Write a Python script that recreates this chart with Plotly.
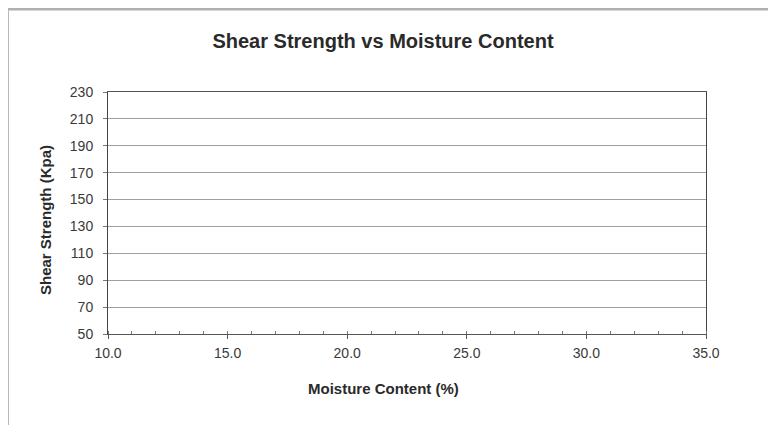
import plotly.graph_objects as go

# Chart contains no plotted data (empty series)
moisture_content = []
shear_strength = []
x_ticks = [10.0, 15.0, 20.0, 25.0, 30.0, 35.0]
x_tick_labels = ["10.0", "15.0", "20.0", "25.0", "30.0", "35.0"]
y_ticks = [50, 70, 90, 110, 130, 150, 170, 190, 210, 230]

fig = go.Figure()
fig.add_trace(go.Scatter(x=moisture_content, y=shear_strength, mode="markers",
                         marker=dict(color="#000080"), showlegend=False))

FONT = "Liberation Sans, Arial, sans-serif"
L, T, W, H = 100, 84, 598, 242
fig.update_layout(
    width=776, height=425,
    margin=dict(l=L, r=776 - L - W, t=T, b=425 - T - H),
    paper_bgcolor="white", plot_bgcolor="white",
    font=dict(family=FONT, color="#333333", size=14),
    title=dict(text="<b>Shear Strength vs Moisture Content</b>", x=375/776, xanchor="center",
               y=1 - 33/425, yanchor="middle", font=dict(size=20, color="#2a2a2a", family=FONT)),
    xaxis=dict(range=[10, 35], tickvals=x_ticks, ticktext=x_tick_labels,
               showgrid=False, zeroline=False, showline=True, linecolor="#555555", linewidth=1,
               mirror=True, ticks="outside", ticklen=4, tickcolor="#555555",
               ticklabelstandoff=2,
               minor=dict(dtick=1, ticks="inside", ticklen=3, tickcolor="#777777", showgrid=False),
               tickfont=dict(size=14, color="#3a3a3a")),
    yaxis=dict(range=[50, 230], tickvals=y_ticks,
               showgrid=True, gridcolor="#a0a0a0", gridwidth=1, zeroline=False,
               showline=True, linecolor="#444444", linewidth=1, mirror=True,
               ticks="outside", ticklen=4, tickcolor="#777777",
               ticklabelstandoff=7,
               tickfont=dict(size=14, color="#3a3a3a")),
    annotations=[
        dict(text="<b>Moisture Content (%)</b>", xref="paper", yref="paper",
             x=(375 - L) / W, y=1 - (380 - T) / H, xanchor="center", yanchor="middle",
             showarrow=False, font=dict(size=15, color="#2a2a2a")),
        dict(text="<b>Shear Strength (Kpa)</b>", xref="paper", yref="paper",
             x=(37 - L) / W, y=1 - (212 - T) / H, xanchor="center", yanchor="middle",
             textangle=-90, showarrow=False, font=dict(size=15, color="#2a2a2a")),
    ],
    shapes=[
        dict(type="line", xref="paper", yref="paper", x0=(0 - L) / W, x1=(776 - L) / W,
             y0=1 + (T - 1) / H, y1=1 + (T - 1) / H, line=dict(color="#b0b0b0", width=3),
             layer="below"),
        dict(type="line", xref="paper", yref="paper", x0=(0 - L) / W, x1=(0 - L) / W,
             y0=1 + (T - 1) / H, y1=1 - (425 - T) / H, line=dict(color="#b8b8b8", width=2),
             layer="below"),
    ],
)

fig.write_html("out.html")
